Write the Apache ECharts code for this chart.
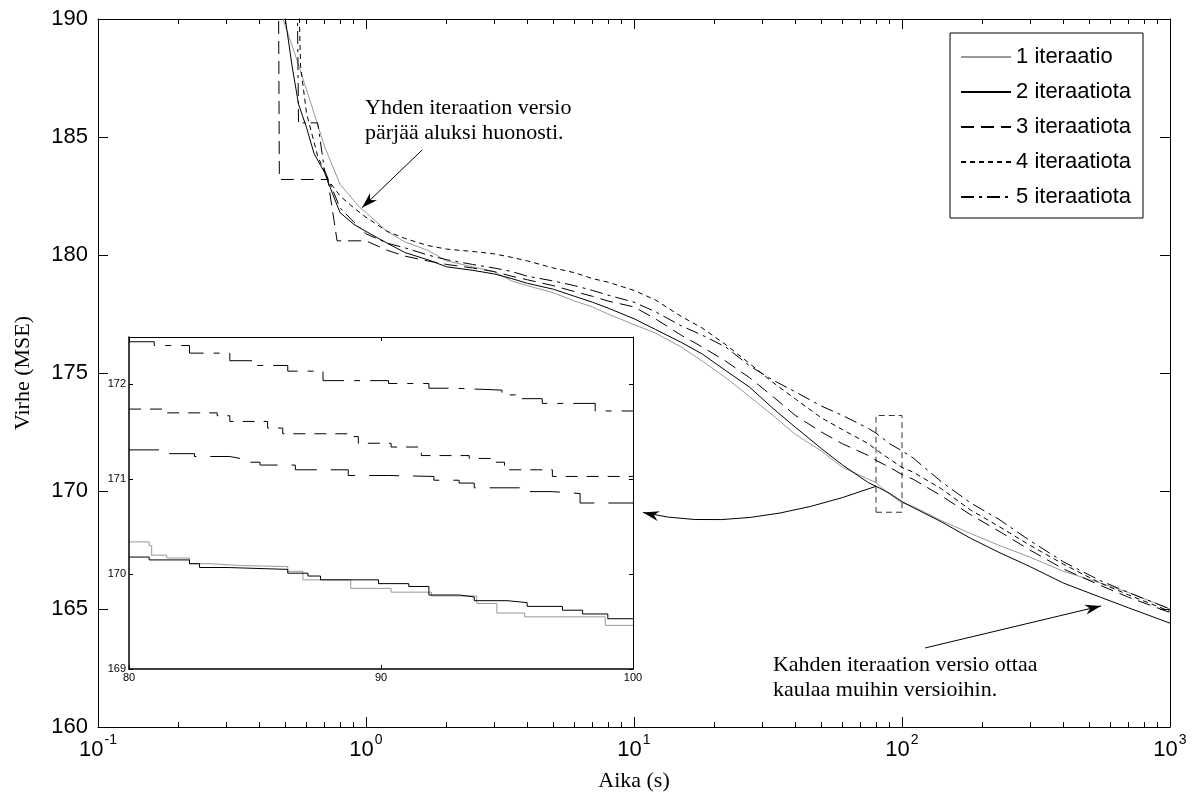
<!DOCTYPE html>
<html>
<head>
<meta charset="utf-8">
<title>Virhe (MSE) ajan funktiona</title>
<script src="https://cdn.jsdelivr.net/npm/echarts@6/dist/echarts.min.js"></script>
<style>
  html, body { margin: 0; padding: 0; background: #fff; }
  #chart { width: 1195px; height: 803px; }
</style>
</head>
<body>
<div id="chart"></div>
<script>
// series names (legend)
var names = ['1 iteraatio', '2 iteraatiota', '3 iteraatiota', '4 iteraatiota', '5 iteraatiota'];

// main plot, [aika (s), virhe (MSE)]
var iter1 = [[0.47, 192], [0.49, 190.0], [0.54, 188.6], [0.62, 186.5], [0.70, 184.6], [0.80, 183.0], [0.95, 182.0], [1.0, 181.8], [1.2, 181.0], [1.4, 180.55], [1.7, 180.2], [2, 179.75], [2.5, 179.5], [3, 179.3], [3.5, 178.9], [4, 178.7], [5, 178.4], [6, 178.05], [7, 177.8], [8, 177.5], [10, 177.05], [12, 176.7], [15, 176.1], [18, 175.5], [22, 174.8], [27, 174.0], [33, 173.2], [40, 172.4], [50, 171.7], [60, 171.0], [75, 170.5], [80, 170.35], [90, 169.85], [100, 169.5], [110, 169.35], [140, 168.75], [180, 168.2], [230, 167.7], [300, 167.2], [400, 166.6], [550, 166.1], [700, 165.7], [1000, 165.0]];
var iter2 = [[0.48, 192], [0.5, 190.0], [0.53, 188.0], [0.56, 186.4], [0.6, 185.4], [0.64, 184.3], [0.7, 183.5], [0.75, 182.6], [0.8, 181.8], [0.9, 181.3], [1.0, 181.0], [1.2, 180.5], [1.4, 180.1], [1.7, 179.8], [2, 179.5], [2.5, 179.35], [3, 179.2], [3.5, 179.0], [4, 178.8], [5, 178.55], [6, 178.25], [7, 178.0], [8, 177.75], [10, 177.3], [12, 176.85], [15, 176.3], [18, 175.8], [22, 175.1], [27, 174.4], [33, 173.5], [40, 172.7], [50, 171.8], [60, 171.1], [75, 170.35], [80, 170.2], [90, 169.9], [100, 169.55], [110, 169.3], [140, 168.7], [180, 168.0], [230, 167.4], [300, 166.8], [400, 166.1], [550, 165.5], [700, 165.05], [1000, 164.4]];
var iter3 = [[0.47, 195], [0.475, 183.2], [0.72, 183.2], [0.78, 180.6], [1.0, 180.6], [1.2, 180.2], [1.4, 179.95], [1.7, 179.75], [2, 179.6], [2.5, 179.45], [3, 179.3], [3.5, 179.1], [4, 178.95], [5, 178.7], [6, 178.45], [7, 178.25], [8, 178.05], [10, 177.8], [12, 177.3], [15, 176.6], [18, 176.1], [22, 175.5], [27, 174.8], [33, 174.0], [40, 173.2], [50, 172.5], [60, 172.0], [75, 171.5], [80, 171.3], [90, 171.0], [100, 170.7], [110, 170.5], [140, 169.8], [180, 169.0], [230, 168.3], [300, 167.5], [400, 166.7], [550, 166.0], [700, 165.5], [1000, 164.85]];
var iter4 = [[0.55, 195], [0.57, 188.0], [0.6, 186.0], [0.66, 184.2], [0.72, 183.2], [0.8, 182.5], [0.9, 182.0], [1.0, 181.6], [1.2, 181.0], [1.4, 180.7], [1.7, 180.4], [2, 180.25], [2.5, 180.15], [3, 180.05], [3.5, 179.9], [4, 179.75], [5, 179.45], [6, 179.25], [7, 179.0], [8, 178.85], [10, 178.5], [12, 178.1], [15, 177.4], [18, 176.9], [22, 176.2], [27, 175.4], [33, 174.6], [40, 173.9], [50, 173.1], [60, 172.6], [75, 172.0], [80, 171.75], [90, 171.35], [100, 171.0], [110, 170.8], [140, 170.1], [180, 169.2], [230, 168.5], [300, 167.7], [400, 166.9], [550, 166.1], [700, 165.6], [1000, 164.9]];
var iter5 = [[0.55, 195], [0.56, 185.6], [0.66, 185.6], [0.7, 183.6], [0.8, 182.0], [0.9, 181.4], [1.0, 180.9], [1.2, 180.5], [1.4, 180.3], [1.7, 180.0], [2, 179.8], [2.5, 179.6], [3, 179.45], [3.5, 179.3], [4, 179.1], [5, 178.9], [6, 178.7], [7, 178.5], [8, 178.3], [10, 178.0], [12, 177.6], [15, 177.0], [18, 176.6], [22, 176.1], [27, 175.3], [33, 174.7], [40, 174.2], [50, 173.6], [60, 173.2], [75, 172.65], [80, 172.45], [90, 172.0], [100, 171.7], [110, 171.4], [140, 170.4], [180, 169.5], [230, 168.8], [300, 167.9], [400, 167.0], [550, 166.2], [700, 165.7], [1000, 165.0]];

// zoomed part 80..100 s (inset)
var zoom1 = [[80, 170.34], [80.8, 170.30], [80.9, 170.20], [81.5, 170.17], [82.4, 170.11], [83.2, 170.09], [84.5, 170.08], [86.3, 170.03], [86.9, 169.94], [88.8, 169.85], [90.4, 169.81], [92.0, 169.77], [93.8, 169.69], [94.6, 169.59], [95.7, 169.55], [98.9, 169.46], [100, 169.46]];
var zoom2 = [[80, 170.18], [80.6, 170.18], [80.8, 170.15], [82.4, 170.11], [82.8, 170.07], [83.9, 170.05], [86.3, 170.01], [87.1, 169.98], [87.6, 169.94], [89.9, 169.90], [91.1, 169.87], [91.9, 169.78], [93.1, 169.76], [93.7, 169.72], [95.0, 169.70], [95.8, 169.66], [97.2, 169.62], [98.0, 169.58], [99, 169.53], [100, 169.53]];
var zoom3 = [[80, 171.31], [81.5, 171.27], [82.6, 171.24], [84.0, 171.22], [84.4, 171.18], [85.2, 171.15], [86.6, 171.10], [88.7, 171.04], [90.3, 171.03], [92.1, 170.99], [93.1, 170.96], [93.7, 170.91], [95.5, 170.87], [96.8, 170.85], [97.9, 170.75], [100, 170.75]];
var zoom4 = [[80, 171.74], [81.5, 171.70], [83.5, 171.67], [84.0, 171.61], [85.5, 171.54], [86.1, 171.48], [88.7, 171.45], [89.1, 171.38], [90.4, 171.34], [91.6, 171.25], [93.5, 171.22], [94.4, 171.18], [94.9, 171.10], [96.8, 171.03], [100, 171.03]];
var zoom5 = [[80, 172.45], [81.0, 172.41], [82.4, 172.33], [84.0, 172.25], [85.0, 172.20], [86.3, 172.14], [87.7, 172.04], [90.3, 172.01], [91.9, 171.96], [92.9, 171.94], [94.8, 171.89], [95.5, 171.85], [96.4, 171.80], [98.5, 171.72], [100, 171.72]];

var mainData = [iter1, iter2, iter3, iter4, iter5];
var zoomData = [zoom1, zoom2, zoom3, zoom4, zoom5];

var colors = ['#999', '#000', '#000', '#000', '#000'];
var dashMain = ['solid', 'solid', [13, 7], [5, 4], [13, 5, 3, 5]];
var dashZoom = ['solid', 'solid', [30, 14], [12, 9], [30, 10, 6, 10]];

var sans = '"Liberation Sans", Arial, sans-serif';
var serif = '"Liberation Serif", "Times New Roman", serif';

var chart = echarts.init(document.getElementById('chart'));

var series = [];
mainData.map(function(d, i) {
  var s = {
    name: names[i],
    type: 'line',
    xAxisIndex: 0,
    yAxisIndex: 0,
    data: d,
    symbol: 'none',
    z: 2,
    lineStyle: { color: colors[i], width: 1, type: dashMain[i] },
    itemStyle: { color: colors[i] }
  };
  if (i === 1) {
    // dashed frame round the zoomed part
    s.markArea = {
      silent: true,
      label: { show: false },
      itemStyle: { color: 'rgba(0,0,0,0)', borderColor: '#333', borderWidth: 1, borderType: [6, 4] },
      data: [[{ xAxis: 80, yAxis: 169.1 }, { xAxis: 100, yAxis: 173.2 }]]
    };
  }
  series.push(s);
});
zoomData.map(function(d, i) {
  series.push({
    name: 'zoom ' + names[i],
    type: 'line',
    xAxisIndex: 2,
    yAxisIndex: 2,
    data: d,
    step: 'end',
    symbol: 'none',
    z: 11,
    lineStyle: { color: colors[i], width: 1, type: dashZoom[i] }
  });
});

var tickLine = { lineStyle: { color: '#000', width: 1 } };

chart.setOption({
  animation: false,
  backgroundColor: '#fff',
  grid: [
    { left: 98, right: 25, top: 19, bottom: 76 },
    { left: 129, top: 337, width: 504, height: 332, show: true, backgroundColor: '#fff', borderWidth: 0, z: 10 }
  ],
  legend: {
    data: names,
    orient: 'vertical',
    right: 52,
    top: 33,
    padding: [12, 12, 9, 10],
    itemWidth: 50,
    itemHeight: 14,
    itemGap: 11,
    backgroundColor: '#fff',
    borderColor: '#000',
    borderWidth: 1,
    borderRadius: 0,
    itemStyle: { color: 'rgba(0,0,0,0)', borderWidth: 0, opacity: 0 },
    textStyle: { fontFamily: sans, fontSize: 22, color: '#000', lineHeight: 24 },
    z: 5
  },
  xAxis: [
    {
      gridIndex: 0, type: 'log', logBase: 10, min: 0.1, max: 1000, position: 'bottom',
      name: 'Aika (s)', nameLocation: 'middle', nameGap: 43,
      nameTextStyle: { fontFamily: serif, fontSize: 22, color: '#000' },
      axisLine: tickLine,
      axisTick: { inside: true, length: 10, lineStyle: tickLine.lineStyle },
      minorTick: { show: true, splitNumber: 9, length: 5, lineStyle: tickLine.lineStyle },
      splitLine: { show: false },
      axisLabel: {
        margin: 12,
        formatter: function(v) {
          return '{b|10}{s|' + Math.round(Math.log10(v)) + '}';
        },
        rich: {
          b: { fontFamily: sans, fontSize: 22, lineHeight: 22, color: '#000', verticalAlign: 'bottom' },
          s: { fontFamily: sans, fontSize: 14, lineHeight: 14, color: '#000', verticalAlign: 'bottom', padding: [0, 0, 14, 1] }
        }
      }
    },
    {
      gridIndex: 0, type: 'log', logBase: 10, min: 0.1, max: 1000, position: 'top',
      axisLine: tickLine,
      axisTick: { inside: true, length: 10, lineStyle: tickLine.lineStyle },
      minorTick: { show: true, splitNumber: 9, length: 5, lineStyle: tickLine.lineStyle },
      splitLine: { show: false },
      axisLabel: { show: false }
    },
    {
      gridIndex: 1, type: 'value', min: 80, max: 100, interval: 10, position: 'bottom', z: 12,
      axisLine: { lineStyle: { color: '#000', width: 1.5 } },
      axisTick: { inside: true, length: 4, lineStyle: tickLine.lineStyle },
      splitLine: { show: false },
      axisLabel: { margin: 3, fontFamily: sans, fontSize: 11, color: '#000' }
    },
    {
      gridIndex: 1, type: 'value', min: 80, max: 100, interval: 10, position: 'top', z: 12,
      axisLine: tickLine,
      axisTick: { inside: true, length: 4, lineStyle: tickLine.lineStyle },
      splitLine: { show: false },
      axisLabel: { show: false }
    }
  ],
  yAxis: [
    {
      gridIndex: 0, type: 'value', min: 160, max: 190, interval: 5, position: 'left',
      name: 'Virhe (MSE)', nameLocation: 'middle', nameGap: 64, nameRotate: 90,
      nameTextStyle: { fontFamily: serif, fontSize: 22, color: '#000' },
      axisLine: { show: true, lineStyle: tickLine.lineStyle },
      axisTick: { show: true, inside: true, length: 10, lineStyle: tickLine.lineStyle },
      splitLine: { show: false },
      axisLabel: { margin: 10, fontFamily: sans, fontSize: 22, color: '#000' }
    },
    {
      gridIndex: 0, type: 'value', min: 160, max: 190, interval: 5, position: 'right',
      axisLine: { show: true, lineStyle: tickLine.lineStyle },
      axisTick: { show: true, inside: true, length: 10, lineStyle: tickLine.lineStyle },
      splitLine: { show: false },
      axisLabel: { show: false }
    },
    {
      gridIndex: 1, type: 'value', min: 169, max: 172.5, interval: 1, position: 'left', z: 12,
      axisLine: { show: true, lineStyle: { color: '#000', width: 1.5 } },
      axisTick: { show: true, inside: true, length: 4, lineStyle: tickLine.lineStyle },
      splitLine: { show: false },
      axisLabel: { margin: 3, fontFamily: sans, fontSize: 11, color: '#000', showMaxLabel: false }
    },
    {
      gridIndex: 1, type: 'value', min: 169, max: 172.5, interval: 1, position: 'right', z: 12,
      axisLine: { show: true, lineStyle: tickLine.lineStyle },
      axisTick: { show: true, inside: true, length: 4, lineStyle: tickLine.lineStyle },
      splitLine: { show: false },
      axisLabel: { show: false }
    }
  ],
  series: series
});

// annotations, anchored to data coordinates
function px(seriesIndex, p) {
  return chart.convertToPixel({ seriesIndex: seriesIndex }, p);
}

function arrowHead(tip, from) {
  var dx = tip[0] - from[0], dy = tip[1] - from[1];
  var d = Math.sqrt(dx * dx + dy * dy);
  var ux = dx / d, uy = dy / d;
  var len = 16, half = 5;
  var bx = tip[0] - ux * len, by = tip[1] - uy * len;
  var nx = tip[0] - ux * len * 0.7, ny = tip[1] - uy * len * 0.7;
  return {
    type: 'polygon', z: 20, silent: true,
    shape: { points: [tip, [bx - uy * half, by + ux * half], [nx, ny], [bx + uy * half, by - ux * half]] },
    style: { fill: '#000' }
  };
}

function straightArrow(from, tip) {
  return [
    { type: 'line', z: 20, silent: true, shape: { x1: from[0], y1: from[1], x2: tip[0], y2: tip[1] }, style: { stroke: '#000', lineWidth: 1 } },
    arrowHead(tip, from)
  ];
}

var a1From = px(0, [1.62, 184.45]), a1Tip = px(0, [0.966, 182.0]);
var a2From = px(0, [122, 163.35]), a2Tip = px(0, [553, 165.13]);
var cStart = px(0, [80, 170.2]), cTip = px(5, [100.4, 170.65]);
var cCtrl = [cStart[0] * 0.42 + cTip[0] * 0.58, Math.max(cStart[1], cTip[1]) + 23];
var t1 = px(0, [0.9914, 186.74]);
var t2 = px(0, [33.0, 163.14]);

var graphics = []
  .concat(straightArrow(a1From, a1Tip))
  .concat(straightArrow(a2From, a2Tip))
  .concat([
    {
      type: 'bezierCurve', z: 20, silent: true,
      shape: { x1: cStart[0], y1: cStart[1], x2: cTip[0], y2: cTip[1], cpx1: cCtrl[0], cpy1: cCtrl[1] },
      style: { stroke: '#000', lineWidth: 1, fill: null }
    },
    arrowHead(cTip, cCtrl),
    {
      type: 'text', z: 20, silent: true, x: t1[0], y: t1[1],
      style: { text: 'Yhden iteraation versio\npärjää aluksi huonosti.', fontFamily: serif, fontSize: 22, lineHeight: 25, fill: '#000', align: 'left', verticalAlign: 'top' }
    },
    {
      type: 'text', z: 20, silent: true, x: t2[0], y: t2[1],
      style: { text: 'Kahden iteraation versio ottaa\nkaulaa muihin versioihin.', fontFamily: serif, fontSize: 22, lineHeight: 25, fill: '#000', align: 'left', verticalAlign: 'top' }
    }
  ]);

chart.setOption({ graphic: graphics });
</script>
</body>
</html>
